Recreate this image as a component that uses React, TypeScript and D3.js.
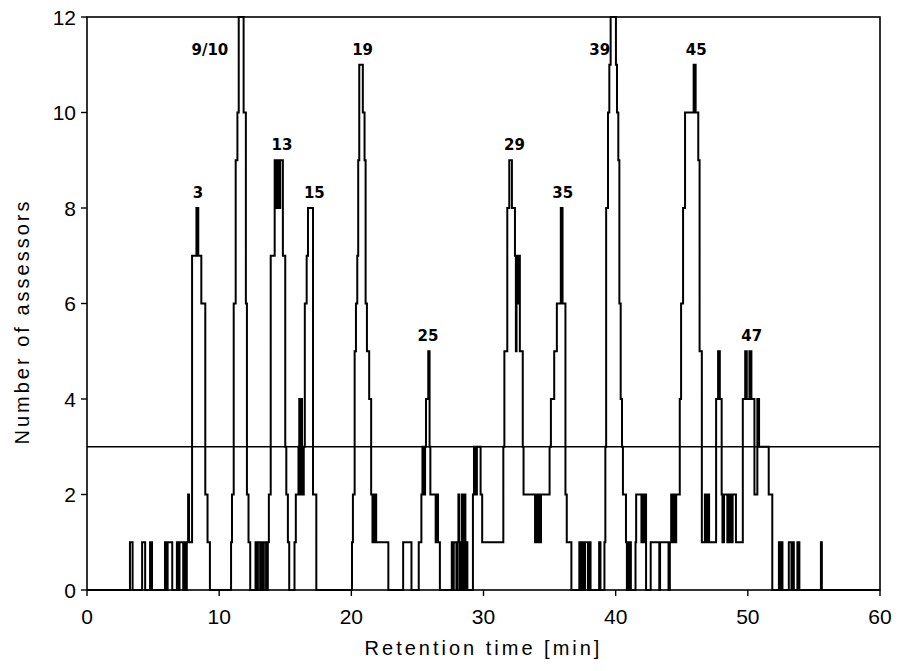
import React from 'react';
import * as d3 from 'd3';

// Axis ticks and the detection threshold
const xTicks = [0, 10, 20, 30, 40, 50, 60];
const yTicks = [0, 2, 4, 6, 8, 10, 12];
const threshold = 3;

// Number of assessors detecting an odour: [retention time (min), count from that time on]
const early: [number, number][] = [
  [0, 0], [3.25, 1], [3.45, 0], [4.17, 1], [4.4, 0], [4.77, 1], [4.92, 0],
  [5.9, 1], [6.05, 0], [6.1, 1], [6.45, 0], [6.8, 1], [6.95, 0], [7.0, 1], [7.28, 0],
  [7.42, 1], [7.5, 0], [7.55, 1], [7.65, 2], [7.72, 1],
];
const peak3: [number, number][] = [
  [7.95, 7], [8.28, 8], [8.42, 7], [8.65, 6], [8.95, 2], [9.12, 1], [9.3, 0],
];
const peak9and10: [number, number][] = [
  [10.9, 1], [10.97, 2], [11.1, 6], [11.25, 9], [11.38, 10], [11.48, 12], [11.85, 10],
  [12.02, 6], [12.1, 2], [12.22, 1], [12.35, 0],
  [12.75, 1], [12.88, 0], [12.93, 1], [13.1, 0], [13.2, 1], [13.32, 0], [13.38, 1], [13.55, 0],
];
const peak13: [number, number][] = [
  [13.68, 1], [13.76, 2], [13.9, 7], [14.2, 9], [14.35, 8], [14.42, 9], [14.55, 8], [14.62, 9],
  [14.82, 7], [15.0, 3], [15.08, 2], [15.2, 1], [15.3, 0],
];
const peak15: [number, number][] = [
  [15.7, 1], [15.8, 2], [16.0, 3], [16.06, 4], [16.12, 2], [16.2, 4], [16.27, 3], [16.33, 2],
  [16.4, 3], [16.48, 6], [16.62, 7], [16.72, 8], [17.1, 2], [17.35, 0],
];
const peak19: [number, number][] = [
  [20.05, 1], [20.12, 2], [20.25, 5], [20.35, 6], [20.45, 7], [20.52, 9], [20.6, 11], [20.87, 10],
  [21.0, 9], [21.08, 6], [21.18, 5], [21.35, 4], [21.5, 2], [21.6, 1], [21.65, 2], [21.7, 1],
  [21.75, 2], [21.88, 1], [22.8, 0], [23.92, 1], [24.55, 0],
];
const peak25: [number, number][] = [
  [25.1, 1], [25.3, 2], [25.38, 3], [25.43, 2], [25.48, 3], [25.53, 2], [25.58, 3], [25.65, 4],
  [25.82, 5], [25.92, 3], [25.98, 2], [26.38, 1], [26.42, 2], [26.47, 1], [26.52, 2], [26.56, 1],
  [26.7, 0], [27.6, 1], [27.68, 0], [27.75, 1], [27.95, 0], [28.05, 1], [28.1, 2], [28.16, 1],
  [28.22, 0], [28.3, 1], [28.36, 2], [28.42, 0], [28.5, 1], [28.56, 2], [28.63, 0], [28.7, 1], [28.78, 0],
];
const peak29: [number, number][] = [
  [29.2, 2], [29.28, 3], [29.32, 2], [29.38, 3], [29.45, 2], [29.5, 3], [29.78, 2], [29.9, 1],
  [31.5, 3], [31.58, 5], [31.8, 8], [31.95, 9], [32.15, 8], [32.38, 7], [32.45, 5], [32.5, 7],
  [32.58, 6], [32.65, 7], [32.75, 5], [32.97, 3], [33.03, 2], [33.9, 1], [33.95, 2], [34.0, 1],
  [34.07, 2], [34.13, 1], [34.2, 2], [34.28, 1], [34.35, 2],
];
const peak35: [number, number][] = [
  [35.0, 3], [35.1, 4], [35.35, 5], [35.55, 6], [35.85, 8], [35.98, 6], [36.2, 2], [36.3, 1],
  [36.65, 0], [37.25, 1], [37.4, 0], [37.48, 1], [37.62, 0], [37.68, 1], [37.9, 0], [37.95, 1],
  [38.1, 0], [38.75, 1], [38.85, 0],
];
const peak39: [number, number][] = [
  [39.15, 1], [39.22, 3], [39.28, 8], [39.42, 10], [39.52, 11], [39.62, 12], [40.02, 11],
  [40.1, 10], [40.2, 9], [40.28, 6], [40.38, 4], [40.48, 3], [40.55, 2], [40.78, 1], [40.85, 0],
  [40.92, 1], [41.0, 0], [41.05, 1], [41.15, 0], [41.5, 1], [41.55, 2], [41.95, 1], [42.02, 2],
  [42.12, 1], [42.2, 2], [42.3, 0], [42.65, 1], [43.3, 0], [43.36, 1], [44.0, 0],
];
const peak45: [number, number][] = [
  [44.1, 1], [44.2, 2], [44.25, 1], [44.32, 2], [44.38, 1], [44.45, 2], [44.5, 1], [44.58, 2],
  [44.85, 4], [44.95, 6], [45.1, 8], [45.25, 10], [45.9, 11], [46.05, 10], [46.25, 9], [46.35, 5],
  [46.52, 1], [46.75, 2], [46.8, 1], [46.88, 2], [46.93, 1], [47.02, 2], [47.07, 1], [47.6, 4],
  [47.75, 5], [47.88, 4], [48.02, 2], [48.08, 1], [48.2, 2], [48.45, 1], [48.5, 2], [48.6, 1],
  [48.65, 2], [48.8, 1], [48.85, 2], [49.1, 1],
];
const peak47: [number, number][] = [
  [49.62, 4], [49.8, 5], [49.92, 4], [50.12, 5], [50.27, 4], [50.5, 2], [50.72, 4], [50.85, 3],
  [51.58, 2], [51.85, 0], [52.35, 1], [52.45, 0], [52.5, 1], [52.62, 0], [53.1, 1], [53.3, 0],
  [53.33, 1], [53.48, 0], [53.75, 1], [53.9, 0], [55.53, 1], [55.6, 0], [60, 0],
];

// Peak numbers written above the trace: name, time (min) and count level it sits over
const peakNames = ['3', '9/10', '13', '15', '19', '25', '29', '35', '39', '45', '47'];
const peakTimes = [8.4, 9.3, 14.75, 17.2, 20.85, 25.8, 32.35, 36.0, 38.8, 46.1, 50.3];
const peakLevels = [8, 11, 9, 8, 11, 5, 9, 8, 11, 11, 5];

export default function App() {
  const width = 901;
  const height = 671;
  const left = 87;
  const right = 880;
  const top = 17;
  const bottom = 590;

  const x = d3.scaleLinear().domain([0, 60]).range([left, right]);
  const y = d3.scaleLinear().domain([0, 12]).range([bottom, top]);

  const trace: [number, number][] = [
    ...early, ...peak3, ...peak9and10, ...peak13, ...peak15, ...peak19,
    ...peak25, ...peak29, ...peak35, ...peak39, ...peak45, ...peak47,
  ];

  const stepLine = d3
    .line<[number, number]>()
    .x((d) => x(d[0]))
    .y((d) => y(d[1]))
    .curve(d3.curveStepAfter);

  const axisFont = "'Liberation Sans', Arial, sans-serif";
  const labelFont = "'DejaVu Sans', sans-serif";

  return (
    <svg
      width={width}
      height={height}
      style={{ position: 'absolute', left: 0, top: 0, background: '#fff' }}
    >
      {/* trace */}
      <path d={stepLine(trace) ?? ''} fill="none" stroke="#000" strokeWidth={2} />

      {/* threshold line */}
      <line x1={x(0)} x2={x(60)} y1={y(threshold)} y2={y(threshold)} stroke="#000" strokeWidth={1.6} />

      {/* frame */}
      <rect x={left} y={top} width={right - left} height={bottom - top} fill="none" stroke="#000" strokeWidth={1.6} />

      {/* x ticks */}
      {xTicks.map((t) => (
        <g key={`x${t}`}>
          <line x1={x(t)} x2={x(t)} y1={bottom} y2={bottom + 6} stroke="#000" strokeWidth={1.4} />
          <text
            x={x(t)}
            y={bottom + 34}
            textAnchor="middle"
            fontFamily={axisFont}
            fontSize={21}
            fill="#000"
          >
            {t}
          </text>
        </g>
      ))}

      {/* y ticks */}
      {yTicks.map((v) => (
        <g key={`y${v}`}>
          <line x1={left - 6} x2={left} y1={y(v)} y2={y(v)} stroke="#000" strokeWidth={1.4} />
          <text
            x={left - 11}
            y={y(v)}
            textAnchor="end"
            dominantBaseline="central"
            fontFamily={axisFont}
            fontSize={21}
            fill="#000"
          >
            {v}
          </text>
        </g>
      ))}

      {/* axis titles */}
      <text
        x={(left + right) / 2}
        y={655}
        textAnchor="middle"
        fontFamily={axisFont}
        fontSize={20}
        letterSpacing={3}
        fill="#000"
      >
        Retention time [min]
      </text>
      <text
        transform={`translate(22, ${(top + bottom) / 2 + 18}) rotate(-90)`}
        textAnchor="middle"
        dominantBaseline="central"
        fontFamily={axisFont}
        fontSize={20}
        letterSpacing={3}
        fill="#000"
      >
        Number of assessors
      </text>

      {/* peak numbers */}
      {peakNames.map((name, i) => (
        <text
          key={name}
          x={x(peakTimes[i])}
          y={y(peakLevels[i]) - 10}
          textAnchor="middle"
          fontFamily={labelFont}
          fontWeight="bold"
          fontSize={15}
          fill="#000"
        >
          {name}
        </text>
      ))}
    </svg>
  );
}
